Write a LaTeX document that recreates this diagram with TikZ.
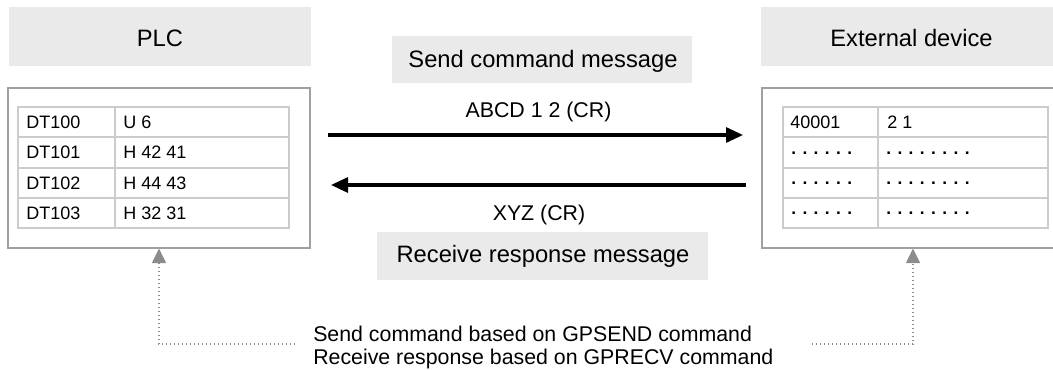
\documentclass[tikz,border=0pt]{standalone}
\usepackage{fontspec}
\setmainfont{Liberation Sans}
\usetikzlibrary{arrows.meta,fit}
\definecolor{hdrfill}{HTML}{EAEAEA}
\definecolor{framecol}{HTML}{A0A0A0}
\definecolor{gridcol}{HTML}{CCCCCC}
\definecolor{dotcol}{HTML}{8C8C8C}
\begin{document}
\begin{tikzpicture}[x=0.75pt,y=-0.75pt,
  hdr/.style={fill=hdrfill, draw=none, inner sep=0pt, outer sep=0pt},
  frm/.style={draw=framecol, line width=1.5pt, fill=white, inner sep=0pt, outer sep=0pt},
  gridline/.style={draw=gridcol, line width=1.1pt},
  bigtxt/.style={font=\fontsize{17.8}{21}\selectfont, anchor=base, inner sep=0pt},
  midtxt/.style={font=\fontsize{16}{19}\selectfont, anchor=base, inner sep=0pt},
  celltxt/.style={font=\fontsize{13.5}{16}\selectfont, anchor=base west, inner sep=0pt},
  dottxt/.style={font=\fontsize{13}{16}\selectfont\bfseries, anchor=base west, inner sep=0pt},
  msgarrow/.style={line width=2.3pt, -{Triangle[length=12.75pt,width=11.25pt]}},
  dotarrow/.style={draw=dotcol, line width=1.1pt, dash pattern=on 1.1pt off 1.9pt, -{Triangle[length=11pt,width=10.5pt,fill=dotcol]}}
]
\useasboundingbox (0,0) rectangle (1053,370);
\clip (0,0) rectangle (1053,370);

% headers
\node[hdr, fit={(9,7)(311,66)}] (plchdr) {};
\node[bigtxt] (plclbl) at (160,47) {PLC};
\node[hdr, fit={(761,7)(1063,66)}] (exthdr) {};
\node[bigtxt] (extlbl) at (911.5,47) {External device};

% frames
\node[frm, fit={(8,88)(310,248.5)}] (plcfrm) {};
\node[frm, fit={(762,88)(1064,248.5)}] (extfrm) {};

% PLC table
\draw[gridline] (18,107) rectangle (289,228);
\foreach \yy in {137,168,198} \draw[gridline] (18,\yy) -- (289,\yy);
\draw[gridline] (115,107) -- (115,228);
\node[celltxt] (p1a) at (26,128.5) {DT100};
\node[celltxt] (p1b) at (123,128.5) {U 6};
\node[celltxt] (p2a) at (26,159) {DT101};
\node[celltxt] (p2b) at (123,159) {H 42 41};
\node[celltxt] (p3a) at (26,189.5) {DT102};
\node[celltxt] (p3b) at (123,189.5) {H 44 43};
\node[celltxt] (p4a) at (26,219.5) {DT103};
\node[celltxt] (p4b) at (123,219.5) {H 32 31};

% external table
\draw[gridline] (783,107) rectangle (1048,228);
\foreach \yy in {137,168,198} \draw[gridline] (783,\yy) -- (1048,\yy);
\draw[gridline] (878,107) -- (878,228);
\node[celltxt] (e1a) at (790,128.5) {40001};
\node[celltxt] (e1b) at (887,128.5) {2 1};
\node[dottxt] (e2a) at (791,154.5) {. . . . . .};
\node[dottxt] (e2b) at (886,154.5) {. . . . . . . .};
\node[dottxt] (e3a) at (791,185) {. . . . . .};
\node[dottxt] (e3b) at (886,185) {. . . . . . . .};
\node[dottxt] (e4a) at (791,215) {. . . . . .};
\node[dottxt] (e4b) at (886,215) {. . . . . . . .};

% message boxes
\node[hdr, fit={(392,36)(692,83)}] (sendbox) {};
\node[bigtxt] (sendlbl) at (543,68) {Send command message};
\node[hdr, fit={(377,232)(708,280)}] (recvbox) {};
\node[bigtxt] (recvlbl) at (543,263) {Receive response message};

% arrows
\coordinate (s1) at (328,135);
\coordinate (s2) at (743,135);
\draw[msgarrow] (s1) -- (s2);
\node[midtxt] (cmd) at (538.5,118) {ABCD 1 2 (CR)};
\coordinate (r1) at (746,185);
\coordinate (r2) at (331,185);
\draw[msgarrow] (r1) -- (r2);
\node[midtxt] (resp) at (539,221) {XYZ (CR)};

% note
\node[midtxt, anchor=base west] (note1) at (313,341) {Send command based on GPSEND command};
\node[midtxt, anchor=base west] (note2) at (313,364.5) {Receive response based on GPRECV command};
\coordinate (dl) at (295,344);
\coordinate (dr) at (812,344);
\draw[dotarrow] (dl) -| (plcfrm.south);
\draw[dotarrow] (dr) -| (extfrm.south);
\end{tikzpicture}
\end{document}
